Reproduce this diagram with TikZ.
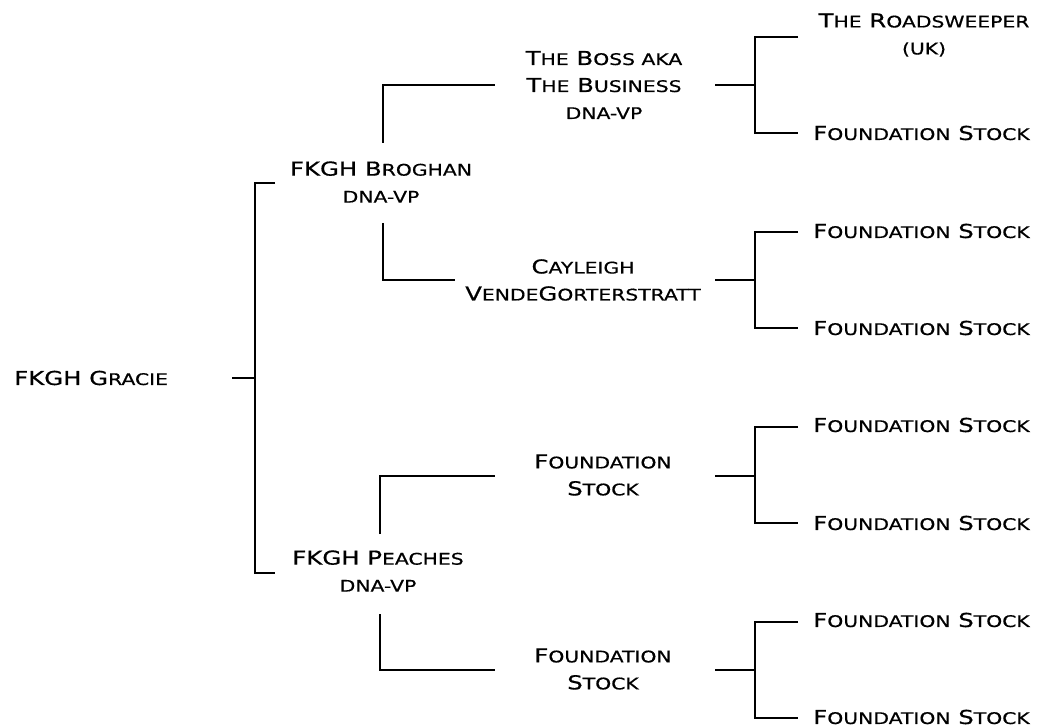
\documentclass[tikz,border=0pt]{standalone}
\usepackage{fontspec}
\newfontfamily\cpfont[FakeStretch=1.27, FakeBold=0.6]{DejaVu Sans}
\newcommand\lc[1]{{\fontsize{12}{20.25}\selectfont #1}}
\tikzset{
  lbl/.style={inner sep=0pt, align=center, text=black,
    font=\cpfont\fontsize{14.4}{20.25}\selectfont},
  link/.style={draw=black, line width=2.2pt},
  thinlink/.style={draw=black, line width=1pt},
  midlink/.style={draw=black, line width=1.8pt}
}
\begin{document}
\begin{tikzpicture}[x=0.75pt, y=-0.75pt]
\useasboundingbox (0,0) rectangle (1038,727);
% text nodes
\node[lbl, anchor=west] (gracie) at (14,378) {FKGH G\lc{RACIE}};
\node[lbl] (broghan) at (381,182) {FKGH B\lc{ROGHAN}\\\lc{DNA-VP}};
\node[lbl] (peaches) at (378,571) {FKGH P\lc{EACHES}\\\lc{DNA-VP}};
\node[lbl] (boss) at (604,85) {T\lc{HE} B\lc{OSS AKA}\\T\lc{HE} B\lc{USINESS}\\\lc{DNA-VP}};
\node[lbl] (cayleigh) at (583,280) {C\lc{AYLEIGH}\\V\lc{ENDE}G\lc{ORTERSTRATT}};
\node[lbl] (fsa) at (603,475) {F\lc{OUNDATION}\\S\lc{TOCK}};
\node[lbl] (fsb) at (603,669) {F\lc{OUNDATION}\\S\lc{TOCK}};
\node[lbl] (road) at (924,35) {T\lc{HE} R\lc{OADSWEEPER}\\\lc{(UK)}};
\node[lbl, anchor=west] (l1) at (813,133) {F\lc{OUNDATION} S\lc{TOCK}};
\node[lbl, anchor=west] (l2) at (813,231) {F\lc{OUNDATION} S\lc{TOCK}};
\node[lbl, anchor=west] (l3) at (813,328) {F\lc{OUNDATION} S\lc{TOCK}};
\node[lbl, anchor=west] (l4) at (813,425) {F\lc{OUNDATION} S\lc{TOCK}};
\node[lbl, anchor=west] (l5) at (813,523) {F\lc{OUNDATION} S\lc{TOCK}};
\node[lbl, anchor=west] (l6) at (813,620) {F\lc{OUNDATION} S\lc{TOCK}};
\node[lbl, anchor=west] (l7) at (813,717) {F\lc{OUNDATION} S\lc{TOCK}};
% connector end points
\coordinate (g-out) at (232,378);
\coordinate (jg) at (255,378);
\coordinate (bro-in) at (275,183);
\coordinate (pea-in) at (275,573);
\coordinate (bro-up) at (383,143);
\coordinate (boss-in) at (495,85);
\coordinate (bro-down) at (383,223);
\coordinate (cay-in) at (455,280);
\coordinate (pea-up) at (380,534);
\coordinate (fsa-in) at (495,476);
\coordinate (pea-down) at (380,614);
\coordinate (fsb-in) at (495,670);
\coordinate (boss-out) at (715,85);
\coordinate (jb) at (755,85);
\coordinate (road-in) at (798,37);
\coordinate (l1-in) at (798,133);
\coordinate (cay-out) at (715,280);
\coordinate (jc) at (755,280);
\coordinate (l2-in) at (798,232);
\coordinate (l3-in) at (798,328);
\coordinate (fsa-out) at (715,476);
\coordinate (jfa) at (755,476);
\coordinate (l4-in) at (798,427);
\coordinate (l5-in) at (798,523);
\coordinate (fsb-out) at (715,670);
\coordinate (jfb) at (755,670);
\coordinate (l6-in) at (798,622);
\coordinate (l7-in) at (798,718);
% connectors
\draw[link] (g-out) -- (jg);
\draw[link] (bro-in) -| (jg) |- (pea-in);
\draw[midlink] (bro-up) |- (boss-in);
\draw[link] (bro-down) |- (cay-in);
\draw[midlink] (pea-up) |- (fsa-in);
\draw[link] (pea-down) |- (fsb-in);
\draw[link] (boss-out) -- (jb);
\draw[link] (road-in) -| (jb) |- (l1-in);
\draw[link] (cay-out) -- (jc);
\draw[link] (l2-in) -| (jc) |- (l3-in);
\draw[thinlink] (fsa-out) -- (jfa);
\draw[link] (l4-in) -| (jfa) |- (l5-in);
\draw[link] (fsb-out) -- (jfb);
\draw[link] (l6-in) -| (jfb) |- (l7-in);
\end{tikzpicture}
\end{document}
